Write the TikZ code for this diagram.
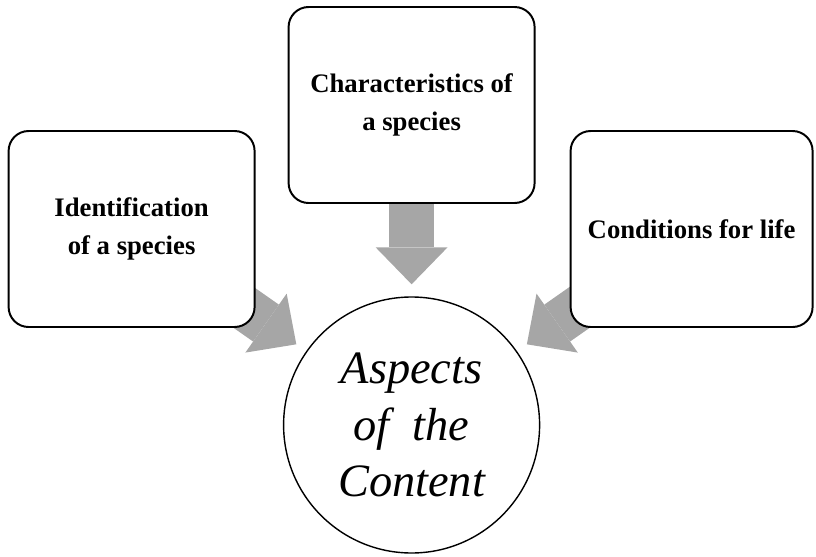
\documentclass[tikz,border=0pt]{standalone}
\usepackage{fontspec}
\setmainfont{Liberation Serif}
\usetikzlibrary{arrows.meta,backgrounds,positioning}

\definecolor{arrowgray}{HTML}{A6A6A6}
\tikzset{
  topic/.style={draw, rectangle, rounded corners=0.5cm, line width=1.4pt, fill=white,
    minimum width=6.15cm, minimum height=4.9cm, align=center,
    font=\fontsize{19}{27}\selectfont\bfseries},
  aspect/.style={draw, circle, line width=1pt, fill=white, minimum size=6.4cm,
    inner sep=0pt, align=center, font=\fontsize{33}{40}\selectfont\itshape},
  feed/.style={draw=arrowgray, line width=1.125cm, shorten >=0.3cm,
    -{Triangle[width=1.8cm,length=0.925cm,line width=0pt]}}
}

\begin{document}
\begin{tikzpicture}[node distance=7cm]
                \useasboundingbox (-10.29,-3.275) rectangle (10.11,10.625);
                \node[aspect] (content) at (0,0) {Aspects\\of\ \ the\\Content};
                \node[topic] (ident) [left of=content, yshift=4.9cm] {Identification\\of a species};
                \node[topic] (charac) [above of=content, yshift=1cm] {Characteristics of\\a species};
                \node[topic, minimum width=6.05cm] (cond) [right of=content, yshift=4.9cm] {Conditions for life};
                
                % grey arrows behind the boxes
                \begin{scope}[on background layer]
                \draw[feed] (ident.center) -- (content);
                \draw[feed] (charac.center) -- (content);
                \draw[feed] (cond.center) -- (content);
                \end{scope}
            \end{tikzpicture}
\end{document}
